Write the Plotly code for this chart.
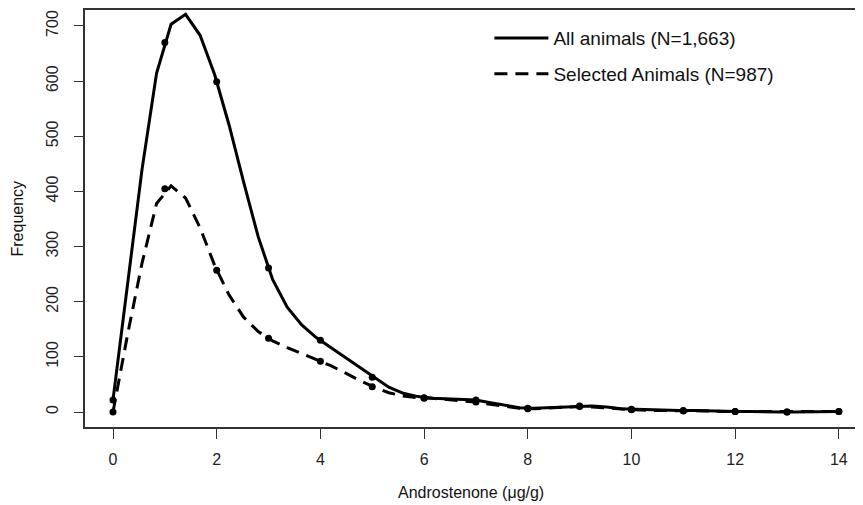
import plotly.graph_objects as go

# Observed integer points (dots)
x_points = [0, 1, 2, 3, 4, 5, 6, 7, 8, 9, 10, 11, 12, 13, 14]
all_points = [22, 670, 599, 261, 130, 63, 26, 22, 7, 11, 5, 3, 1, 0, 1]
sel_points = [0, 405, 257, 134, 92, 46, 25, 18, 6, 10, 4, 2, 1, 0, 1]

# Smoothed curve vertices
x_curve = [0.00, 0.28, 0.56, 0.84, 1.12, 1.40, 1.68, 1.96, 2.24, 2.52,
           2.80, 3.08, 3.36, 3.64, 3.92, 4.20, 4.48, 4.76, 5.04, 5.32,
           5.60, 5.88, 6.16, 6.44, 6.72, 7.00, 7.28, 7.56, 7.84, 8.12,
           8.40, 8.68, 8.96, 9.24, 9.52, 9.80, 10.08, 10.36, 10.64, 10.92,
           11.20, 11.48, 11.76, 12.04, 12.32, 12.60, 12.88, 13.16, 13.44, 13.72,
           14.00]
all_curve = [22, 227, 440, 614, 703, 721, 683, 612, 520, 417,
             318, 240, 190, 158, 135, 117, 99, 80, 62, 45,
             34, 28, 25, 24, 23, 22, 17, 12, 8, 7,
             8, 10, 11, 11, 9, 6, 5, 4, 3, 3,
             3, 2, 2, 1, 1, 0, 0, 0, 0, 1,
             1]
sel_curve = [0, 140, 270, 378, 410, 388, 334, 266, 212, 172,
             146, 129, 117, 106, 95, 84, 71, 57, 45, 35,
             29, 26, 25, 23, 21, 18, 14, 10, 7, 6,
             7, 9, 10, 9, 7, 5, 4, 3, 3, 2,
             2, 2, 1, 1, 1, 0, 0, 0, 0, 1,
             1]

x_ticks = [0, 2, 4, 6, 8, 10, 12, 14]
y_ticks = [0, 100, 200, 300, 400, 500, 600, 700]

FONT = "Liberation Sans, Arial, Helvetica, sans-serif"

fig = go.Figure()

fig.add_trace(go.Scatter(
    x=x_curve, y=all_curve, mode="lines",
    line=dict(color="black", width=3),
    name="All animals (N=1,663)", legendgroup="a"))
fig.add_trace(go.Scatter(
    x=x_curve, y=sel_curve, mode="lines",
    line=dict(color="black", width=3, dash="13px,8px"),
    name="Selected Animals (N=987)", legendgroup="b"))
fig.add_trace(go.Scatter(
    x=x_points, y=all_points, mode="markers",
    marker=dict(color="black", size=7), showlegend=False))
fig.add_trace(go.Scatter(
    x=x_points, y=sel_points, mode="markers",
    marker=dict(color="black", size=7), showlegend=False))

# plot area: 786 px wide (extends past the visible window edge like the original)
fig.update_layout(
    width=863, height=505,
    margin=dict(l=77, r=0, t=0, b=86),
    paper_bgcolor="white", plot_bgcolor="white",
    font=dict(family=FONT, color="#222222"),
    showlegend=True,
    legend=dict(
        x=0.5145, y=0.978, xanchor="left", yanchor="top",
        font=dict(size=19, family=FONT, color="#111111"),
        bgcolor="rgba(0,0,0,0)", traceorder="grouped",
        tracegroupgap=8, itemwidth=54),
    xaxis=dict(
        range=[-0.54, 14.62], tickmode="array", tickvals=x_ticks,
        ticktext=[str(v) for v in x_ticks],
        showgrid=False, zeroline=False,
        showline=True, mirror=True, linecolor="#333333", linewidth=1.5,
        ticks="outside", ticklen=10, tickwidth=1.3, tickcolor="#333333",
        tickfont=dict(size=16, family=FONT, color="#222222"),
        ticklabelstandoff=7),
    yaxis=dict(
        range=[-27.1, 728.9], tickmode="array", tickvals=y_ticks,
        ticktext=[str(v) for v in y_ticks],
        showgrid=False, zeroline=False,
        showline=True, mirror=False, linecolor="#333333", linewidth=1.5,
        ticks="outside", ticklen=9, tickwidth=1.3, tickcolor="#333333",
        tickangle=-90,
        tickfont=dict(size=16, family=FONT, color="#222222"),
        ticklabelstandoff=10),
    annotations=[
        dict(text="Androstenone (\u03bcg/g)", xref="paper", yref="paper",
             x=0.4917, y=-0.1575, xanchor="center", yanchor="middle",
             showarrow=False, font=dict(size=16, family=FONT, color="#111111")),
        dict(text="Frequency", xref="paper", yref="paper",
             x=-0.0865, y=0.5, xanchor="center", yanchor="middle",
             textangle=-90, showarrow=False,
             font=dict(size=16, family=FONT, color="#111111")),
    ],
)

fig.write_html("out.html")
